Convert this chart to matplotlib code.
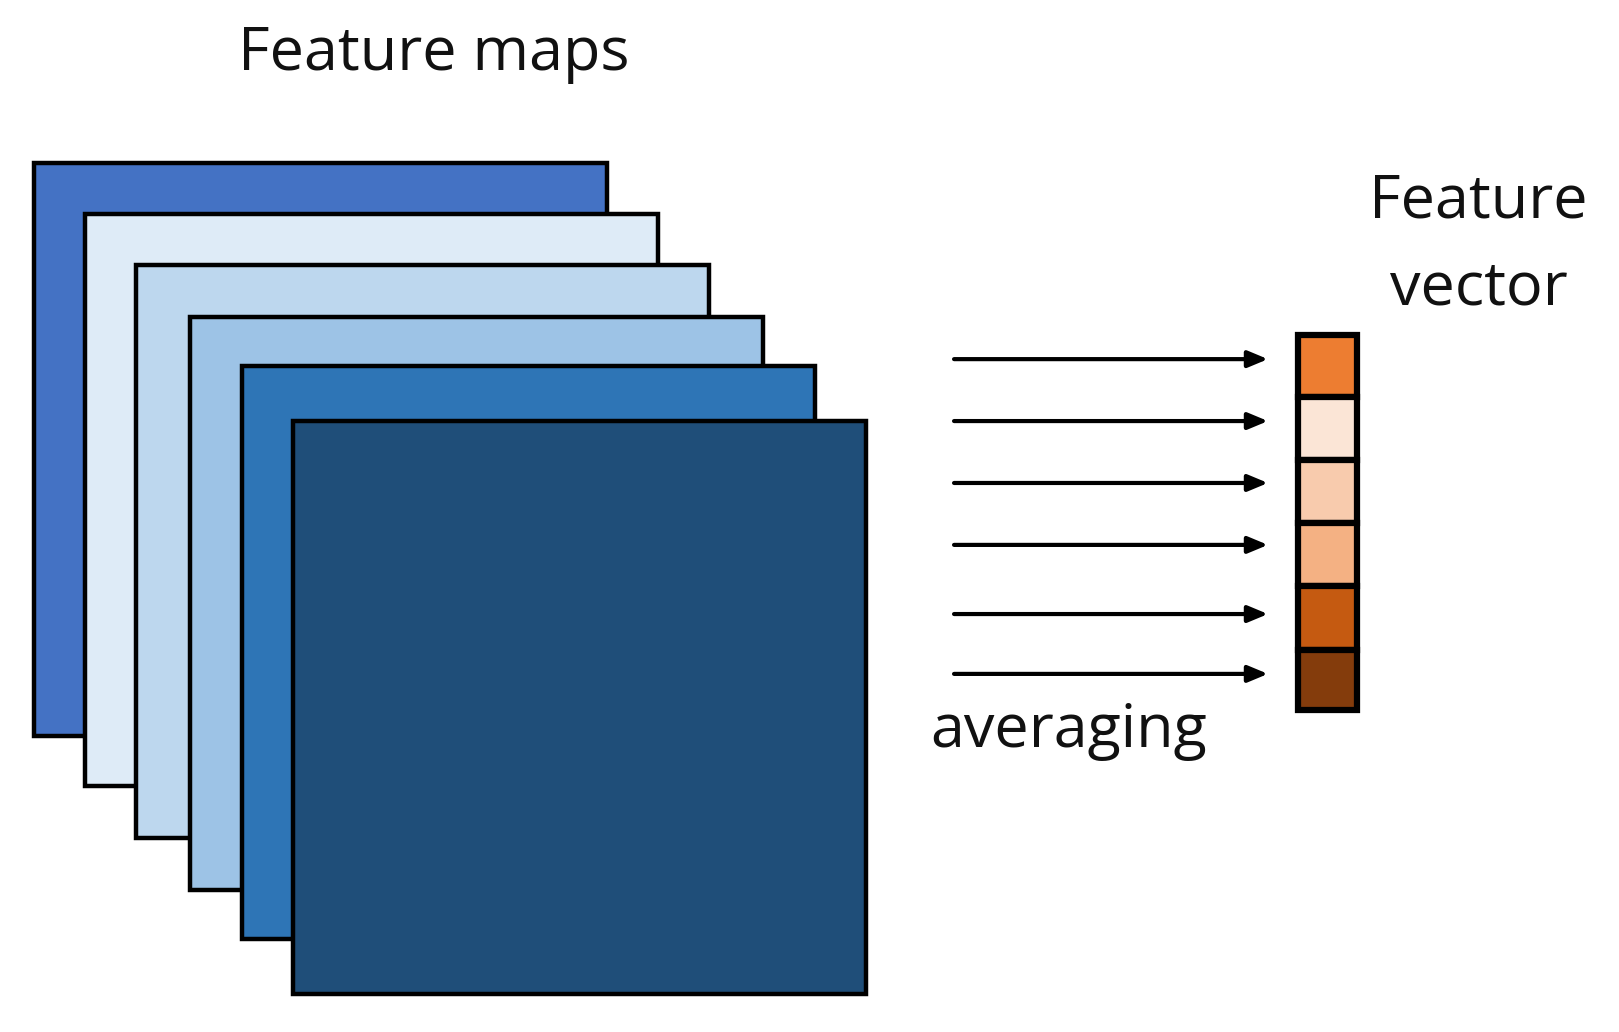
import matplotlib
matplotlib.use("Agg")
import matplotlib.pyplot as plt
from matplotlib.patches import Rectangle

# diagram data (reference-pixel units of a 1568-wide canvas)
map_colors = ["#4472C4", "#DEEBF7", "#BDD7EE", "#9DC3E6", "#2E75B6", "#1F4E79"]
map_x = [33, 82, 132, 184, 234, 284]
map_y = [158, 207, 257, 307, 355, 408]
map_size = 555
vec_colors = ["#ED7D31", "#FBE5D6", "#F8CBAD", "#F4B183", "#C55A11", "#843C0C"]
vec_edges = [325, 385, 446, 507, 568, 630, 688]
arrow_y = [348, 408, 468, 528, 595, 653]

W, H = 1568, 1000
fig = plt.figure(figsize=(16.19, 10.32), dpi=100)
ax = fig.add_axes([0, 0, 1, 1])
ax.set_xlim(0, W); ax.set_ylim(H, 0); ax.axis("off")

for c, x, y in zip(map_colors, map_x, map_y):
    ax.add_patch(Rectangle((x, y), map_size, map_size, facecolor=c, edgecolor="black", lw=3.2))

for c, t, b in zip(vec_colors, vec_edges[:-1], vec_edges[1:]):
    ax.add_patch(Rectangle((1257, t), 57, b - t, facecolor=c, edgecolor="black", lw=4.5))

for y in arrow_y:
    ax.annotate("", xy=(1228, y), xytext=(924, y),
                arrowprops=dict(arrowstyle="-|>,head_length=1.2,head_width=0.5", color="black", lw=3, shrinkA=0, shrinkB=0))

fam = ["Open Sans", "DejaVu Sans"]
ax.text(420, 52, "Feature maps", ha="center", va="center", fontsize=44, family=fam, color="#111111")
ax.text(1035, 708, "averaging", ha="center", va="center", fontsize=44, family=fam, color="#111111")
ax.text(1432, 195, "Feature", ha="center", va="center", fontsize=44, family=fam, color="#111111")
ax.text(1432, 280, "vector", ha="center", va="center", fontsize=44, family=fam, color="#111111")

fig.savefig("out.png", dpi=100, facecolor="white")
